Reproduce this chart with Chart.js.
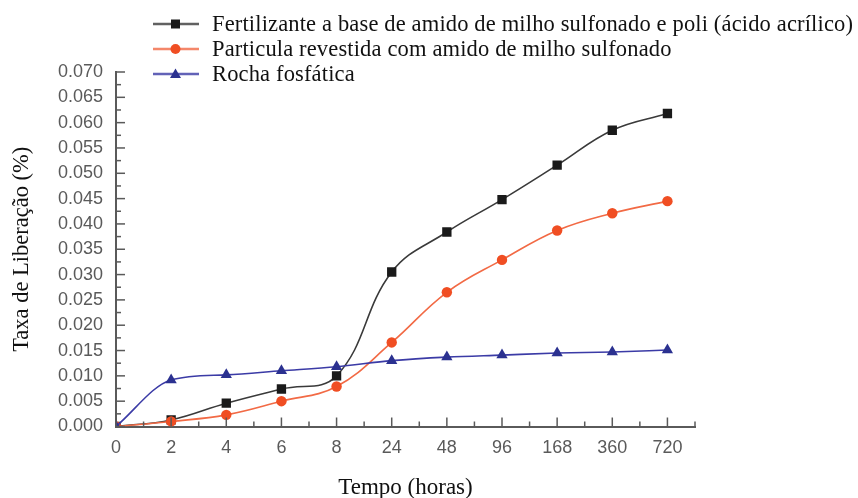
<!DOCTYPE html>
<html>
<head>
<meta charset="utf-8">
<script src="https://cdn.jsdelivr.net/npm/chart.js@4.4.1/dist/chart.umd.min.js"></script>
<style>
  html, body { margin: 0; padding: 0; background: #fff; }
  #wrap { position: relative; width: 858px; height: 498px; }
  #legend { position: absolute; left: 153px; top: 11px; font-family: "Liberation Serif", "Times New Roman", serif; font-size: 22.5px; letter-spacing: 0.15px; color: #111; }
  .row { display: flex; align-items: center; height: 25px; white-space: nowrap; }
  .row svg { margin-right: 13px; }
</style>
</head>
<body>
<div id="wrap">
  <canvas id="c" width="858" height="498"></canvas>
  <div id="legend"></div>
</div>
<script>
const categories = ['0', '2', '4', '6', '8', '24', '48', '96', '168', '360', '720'];
const fertilizante = [0, 0.0013, 0.0046, 0.0074, 0.0100, 0.0305, 0.0384, 0.0448, 0.0516, 0.0585, 0.0618];
const particula    = [0, 0.0010, 0.0023, 0.0050, 0.0079, 0.0166, 0.0265, 0.0329, 0.0387, 0.0421, 0.0445];
const rocha        = [0, 0.0092, 0.0102, 0.0110, 0.0118, 0.0130, 0.0137, 0.0141, 0.0145, 0.0147, 0.0151];
const seriesNames = [
  'Fertilizante a base de amido de milho sulfonado e poli (ácido acrílico)',
  'Particula revestida com amido de milho sulfonado',
  'Rocha fosfática'
];
const yTicks = ['0.000','0.005','0.010','0.015','0.020','0.025','0.030','0.035','0.040','0.045','0.050','0.055','0.060','0.065','0.070'];

const styles = [
  { line: '#3a3a3a', fill: '#1a1a1a', point: 'rect', radius: 6.6, mode: 'default' },
  { line: '#f26a45', fill: '#f04e23', point: 'circle', radius: 5.2, mode: 'default' },
  { line: '#3b3ba6', fill: '#2b3190', point: 'triangle', radius: 6.5, mode: 'monotone' }
];
const values = [fertilizante, particula, rocha];

const datasets = values.map((vals, i) => ({
  label: seriesNames[i],
  data: vals.map((v, k) => ({ x: k, y: v })),
  borderColor: styles[i].line,
  backgroundColor: styles[i].fill,
  pointBackgroundColor: styles[i].fill,
  pointBorderColor: styles[i].fill,
  pointStyle: styles[i].point,
  pointRadius: styles[i].radius,
  pointBorderWidth: 0,
  borderWidth: 1.6,
  tension: 0.4,
  cubicInterpolationMode: styles[i].mode,
  fill: false
})).reverse();

const innerTicks = {
  id: 'innerTicks',
  afterDraw(chart) {
    const ctx = chart.ctx;
    const xs = chart.scales.x, ys = chart.scales.y;
    const area = chart.chartArea;
    ctx.save();
    ctx.strokeStyle = '#5a5a5a';
    ctx.lineWidth = 1.5;
    ys.ticks.forEach(t => {
      const y = ys.getPixelForValue(t.value);
      const major = Math.abs(Math.round(t.value * 1000 / 5) * 5 - t.value * 1000) < 1e-6;
      const len = major ? 9 : 5;
      ctx.beginPath();
      ctx.moveTo(area.left, y);
      ctx.lineTo(area.left + len, y);
      ctx.stroke();
    });
    xs.ticks.forEach(t => {
      const x = xs.getPixelForValue(t.value);
      const major = Math.abs(t.value - Math.round(t.value)) < 1e-6;
      const len = major ? 9 : 5;
      ctx.beginPath();
      ctx.moveTo(x, area.bottom);
      ctx.lineTo(x, area.bottom - len);
      ctx.stroke();
    });
    ctx.restore();
  }
};

new Chart(document.getElementById('c'), {
  type: 'line',
  data: { datasets },
  plugins: [innerTicks],
  options: {
    responsive: false,
    animation: false,
    layout: { padding: { top: 72, right: 163, left: 0, bottom: 0 } },
    plugins: { legend: { display: false }, tooltip: { enabled: false } },
    scales: {
      x: {
        type: 'linear',
        min: 0,
        max: 10.5,
        afterFit: s => { s.height = 71.5; },
        grid: { display: false },
        border: { display: true, color: '#5a5a5a', width: 2 },
        ticks: {
          stepSize: 0.5,
          autoSkip: false,
          maxRotation: 0,
          padding: 3,
          color: '#5a5a5a',
          font: { family: '"Liberation Sans", Arial, sans-serif', size: 18 },
          callback: v => (Math.abs(v - Math.round(v)) < 1e-6 && categories[Math.round(v)] !== undefined) ? categories[Math.round(v)] : ''
        },
        title: {
          display: true,
          text: 'Tempo (horas)',
          color: '#111',
          font: { family: '"Liberation Serif", "Times New Roman", serif', size: 23 },
          padding: { top: 0, bottom: -4 }
        }
      },
      y: {
        min: 0,
        max: 0.07,
        afterFit: s => { s.width = 116; },
        grid: { display: false },
        border: { display: true, color: '#5a5a5a', width: 2 },
        ticks: {
          stepSize: 0.0025,
          autoSkip: false,
          padding: 5,
          color: '#5a5a5a',
          font: { family: '"Liberation Sans", Arial, sans-serif', size: 18 },
          callback: v => {
            const k = Math.round(v * 1000);
            if (Math.abs(v * 1000 - k) < 1e-6 && k % 5 === 0) return yTicks[k / 5];
            return '';
          }
        },
        title: {
          display: true,
          text: 'Taxa de Liberação (%)',
          color: '#111',
          font: { family: '"Liberation Serif", "Times New Roman", serif', size: 22.5 },
          padding: { top: 9, bottom: 0 }
        }
      }
    }
  }
});

// HTML legend built from the series arrays
const legend = document.getElementById('legend');
seriesNames.forEach((name, i) => {
  const st = styles[i];
  let marker = '';
  if (st.point === 'rect') marker = `<rect x="18" y="5.5" width="9" height="9" fill="${st.fill}"/>`;
  else if (st.point === 'circle') marker = `<circle cx="22.5" cy="10" r="5" fill="${st.fill}"/>`;
  else marker = `<polygon points="22.5,4.5 28,14 17,14" fill="${st.fill}"/>`;
  const row = document.createElement('div');
  row.className = 'row';
  row.innerHTML = `<svg width="46" height="20"><line x1="0" y1="10" x2="46" y2="10" stroke="${st.line}" stroke-width="2.5" opacity="0.8"/>${marker}</svg><span>${name}</span>`;
  legend.appendChild(row);
});
</script>
</body>
</html>
